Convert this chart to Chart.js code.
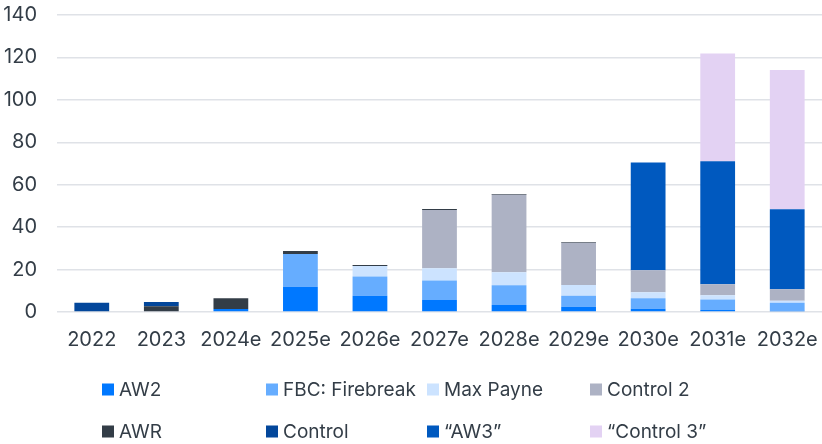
<!DOCTYPE html>
<html>
<head>
<meta charset="utf-8">
<script src="https://cdn.jsdelivr.net/npm/chart.js@4.4.1/dist/chart.umd.min.js"></script>
<style>
  html, body { margin: 0; padding: 0; background: #fff; }
  #wrap { width: 822px; height: 444px; }
</style>
</head>
<body>
<div id="wrap"><canvas id="bar-chart" width="822" height="444"></canvas></div>
<script>
// categories
var years = ['2022', '2023', '2024e', '2025e', '2026e', '2027e', '2028e', '2029e', '2030e', '2031e', '2032e'];

// series values (stacked, bottom to top)
var aw2      = [0,   0,   1.4, 11.9, 7.7, 5.7,  3.3,  2.5,  1.5,  0.9,  0.6];
var fbc      = [0,   0,   0,   15.4, 9.0, 9.1,  9.3,  5.2,  5.0,  5.0,  3.8];
var maxPayne = [0,   0,   0,   0,    5.0, 5.8,  6.1,  5.0,  2.8,  2.0,  0.9];
var control2 = [0,   0,   0,   0,    0,   27.5, 36.6, 20.0, 10.4, 5.2,  5.4];
var awr      = [0,   2.7, 5.1, 1.5,  0.5, 0.4,  0.3,  0.3,  0,    0,    0];
var control  = [4.4, 2.0, 0,   0,    0,   0,    0,    0,    0,    0,    0];
var aw3      = [0,   0,   0,   0,    0,   0,    0,    0,    50.8, 58.0, 37.7];
var control3 = [0,   0,   0,   0,    0,   0,    0,    0,    0,    50.8, 65.7];

var seriesNames = ['AW2', 'FBC: Firebreak', 'Max Payne', 'Control 2', 'AWR', 'Control', '\u201cAW3\u201d', '\u201cControl 3\u201d'];
var seriesData = [aw2, fbc, maxPayne, control2, awr, control, aw3, control3];
var colors = ['#0078ff', '#66adff', '#cce3ff', '#adb2c4', '#333d47', '#03479b', '#0059bf', '#e3d2f3'];

var yTicks = [0, 20, 40, 60, 80, 100, 120, 140];

var FONT = 'Inter, "Open Sans", sans-serif';
var TEXT = '#333d47';

var datasets = seriesNames.map(function(name, i) {
  return {
    label: name,
    data: seriesData[i],
    backgroundColor: colors[i],
    borderWidth: 0,
    barPercentage: 0.5,
    categoryPercentage: 1.0
  };
});

// legend drawn as a 4 x 2 grid under the axis
var gridLegend = {
  id: 'gridLegend',
  afterDraw: function(chart) {
    var ctx = chart.ctx;
    var colX = [102, 266, 427, 590];
    var rowY = [389.5, 431.5];
    ctx.save();
    ctx.font = '19px ' + FONT;
    ctx.textBaseline = 'middle';
    ctx.textAlign = 'left';
    chart.data.datasets.forEach(function(ds, i) {
      var x = colX[i % 4];
      var y = rowY[Math.floor(i / 4)];
      ctx.fillStyle = ds.backgroundColor;
      ctx.fillRect(x, y - 6, 12, 12);
      ctx.fillStyle = TEXT;
      ctx.fillText(ds.label, x + 17, y + 1);
    });
    ctx.restore();
  }
};

new Chart(document.getElementById('bar-chart'), {
  type: 'bar',
  data: { labels: years, datasets: datasets },
  plugins: [gridLegend],
  options: {
    responsive: false,
    animation: false,
    layout: { padding: { top: 15, right: 0, bottom: 92, left: 0 } },
    plugins: {
      legend: { display: false },
      tooltip: { enabled: false }
    },
    scales: {
      x: {
        stacked: true,
        afterFit: function(s) { s.height = 40; s.paddingLeft = 0; s.paddingRight = 0; },
        grid: { display: false, drawTicks: false },
        border: { display: false },
        ticks: { color: TEXT, font: { family: FONT, size: 20 }, padding: 16, maxRotation: 0 }
      },
      y: {
        stacked: true,
        min: 0,
        max: 140,
        afterFit: function(s) { s.width = 57; s.paddingTop = 0; s.paddingBottom = 0; },
        afterBuildTicks: function(s) { s.ticks = yTicks.map(function(v) { return { value: v }; }); },
        grid: { color: '#dfe2e7', lineWidth: 1.5, drawTicks: false },
        border: { display: false },
        ticks: { color: TEXT, font: { family: FONT, size: 20 }, padding: 20 }
      }
    }
  }
});
</script>
</body>
</html>
